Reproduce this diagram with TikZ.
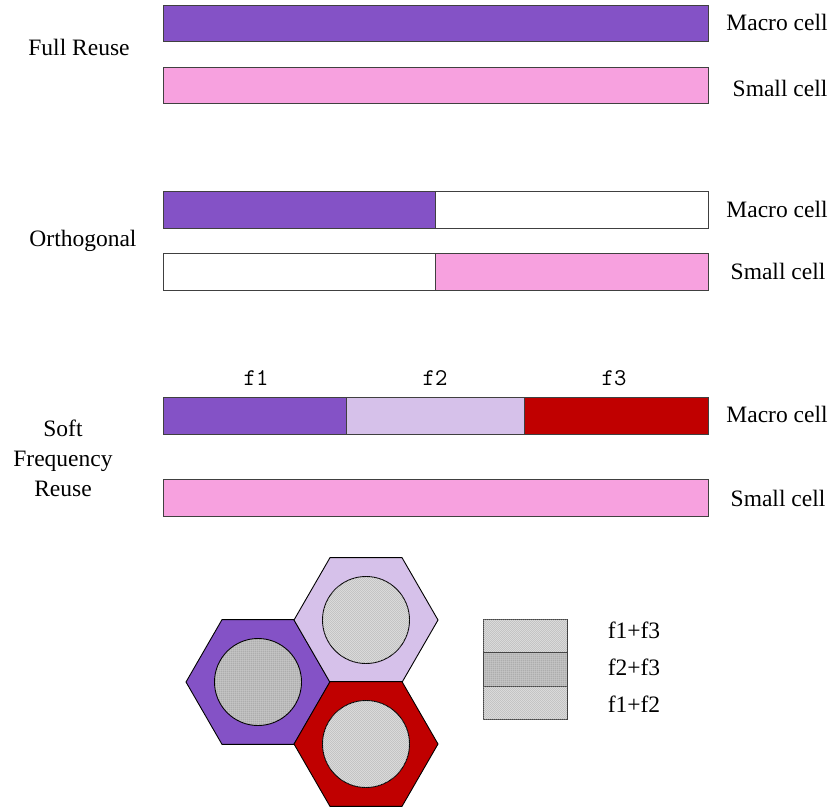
\documentclass[tikz,border=0pt]{standalone}
\usepackage{fontspec}
\setmainfont{Liberation Serif}
\newfontfamily\tnr{Liberation Serif}
\usetikzlibrary{patterns.meta}
\definecolor{cpurple}{HTML}{8452C6}
\definecolor{clav}{HTML}{D6C1EA}
\definecolor{cred}{HTML}{C00000}
\definecolor{cpink}{HTML}{F7A1DF}
\tikzdeclarepattern{
  name=fgrid, type=uncolored,
  bottom left={(0pt,0pt)}, top right={(2.2pt,2.2pt)},
  tile size={(2.2pt,2.2pt)},
  code={\draw[line width=0.6pt] (0pt,0pt)--(2.2pt,0pt); \draw[line width=0.6pt] (0pt,0pt)--(0pt,2.2pt);}
}
\tikzdeclarepattern{
  name=fdots, type=uncolored,
  bottom left={(0pt,0pt)}, top right={(2.4pt,2.4pt)},
  tile size={(2.4pt,2.4pt)},
  code={\fill (0pt,0pt) rectangle (0.9pt,0.9pt); \fill (1.2pt,1.2pt) rectangle (2.1pt,2.1pt);}
}
\tikzset{
  bar/.style={draw=black!75, line width=0.9pt},
  lbl/.style={anchor=base, inner sep=0pt, font=\tnr\fontsize{23.5}{28}\selectfont},
  flbl/.style={anchor=base, inner sep=0pt, font=\ttfamily\fontsize{24}{28}\selectfont},
  hexcell/.style={draw=black, line width=0.9pt},
  dotfill/.style={draw=black, line width=0.9pt, fill=black!12, postaction={pattern={fdots}, pattern color=gray!75}},
  gridfill/.style={draw=black, line width=0.9pt, fill=black!23, postaction={pattern={fgrid}, pattern color=black!60}}
}
\begin{document}
\begin{tikzpicture}[x=1pt,y=-1pt]
\useasboundingbox (0,0) rectangle (832,809);
% Full reuse
\draw[bar, fill=cpurple] (163,5) rectangle (708,41);
\draw[bar, fill=cpink] (163,67) rectangle (708,103);
\node[lbl] (m1) at (777,30) {Macro cell};
\node[lbl] (s1) at (780,96) {Small cell};
\node[lbl] (fr) at (79,55) {Full Reuse};
% Orthogonal
\draw[bar, fill=cpurple] (163,191) rectangle (435,228);
\draw[bar, fill=white] (435,191) rectangle (708,228);
\draw[bar, fill=white] (163,253) rectangle (435,290);
\draw[bar, fill=cpink] (435,253) rectangle (708,290);
\node[lbl] (m2) at (777,217) {Macro cell};
\node[lbl] (s2) at (778,279) {Small cell};
\node[lbl] (orth) at (83,246) {Orthogonal};
% SFR
\draw[bar, fill=cpurple] (163,397) rectangle (346,434);
\draw[bar, fill=clav] (346,397) rectangle (524,434);
\draw[bar, fill=cred] (524,397) rectangle (708,434);
\draw[bar, fill=cpink] (163,479) rectangle (708,516);
\node[flbl] (f1) at (256,385) {f1};
\node[flbl] (f2) at (435,385) {f2};
\node[flbl] (f3) at (614,385) {f3};
\node[lbl] (m3) at (777,422) {Macro cell};
\node[lbl] (s3) at (778,506) {Small cell};
\node[lbl] (sfr1) at (63,436) {Soft};
\node[lbl] (sfr2) at (63,466) {Frequency};
\node[lbl] (sfr3) at (63,496) {Reuse};
% hexagons
\coordinate (hl) at (258,682);
\coordinate (ht) at (366,620);
\coordinate (hb) at (366,744);
\draw[hexcell, fill=cpurple] (hl) +(0:72) -- +(60:72) -- +(120:72) -- +(180:72) -- +(240:72) -- +(300:72) -- cycle;
\draw[hexcell, fill=clav] (ht) +(0:72) -- +(60:72) -- +(120:72) -- +(180:72) -- +(240:72) -- +(300:72) -- cycle;
\draw[hexcell, fill=cred] (hb) +(0:72) -- +(60:72) -- +(120:72) -- +(180:72) -- +(240:72) -- +(300:72) -- cycle;
\draw[gridfill] (hl) circle[radius=43.5];
\draw[dotfill] (ht) circle[radius=43.5];
\draw[dotfill] (hb) circle[radius=43.5];
% legend
\draw[dotfill, draw=black!75] (483,619) rectangle (567,652);
\draw[gridfill, draw=black!75] (483,652) rectangle (567,686);
\draw[dotfill, draw=black!75] (483,686) rectangle (567,719);
\node[lbl] (l1) at (634,638) {f1+f3};
\node[lbl] (l2) at (634,675) {f2+f3};
\node[lbl] (l3) at (634,712) {f1+f2};
\end{tikzpicture}
\end{document}
